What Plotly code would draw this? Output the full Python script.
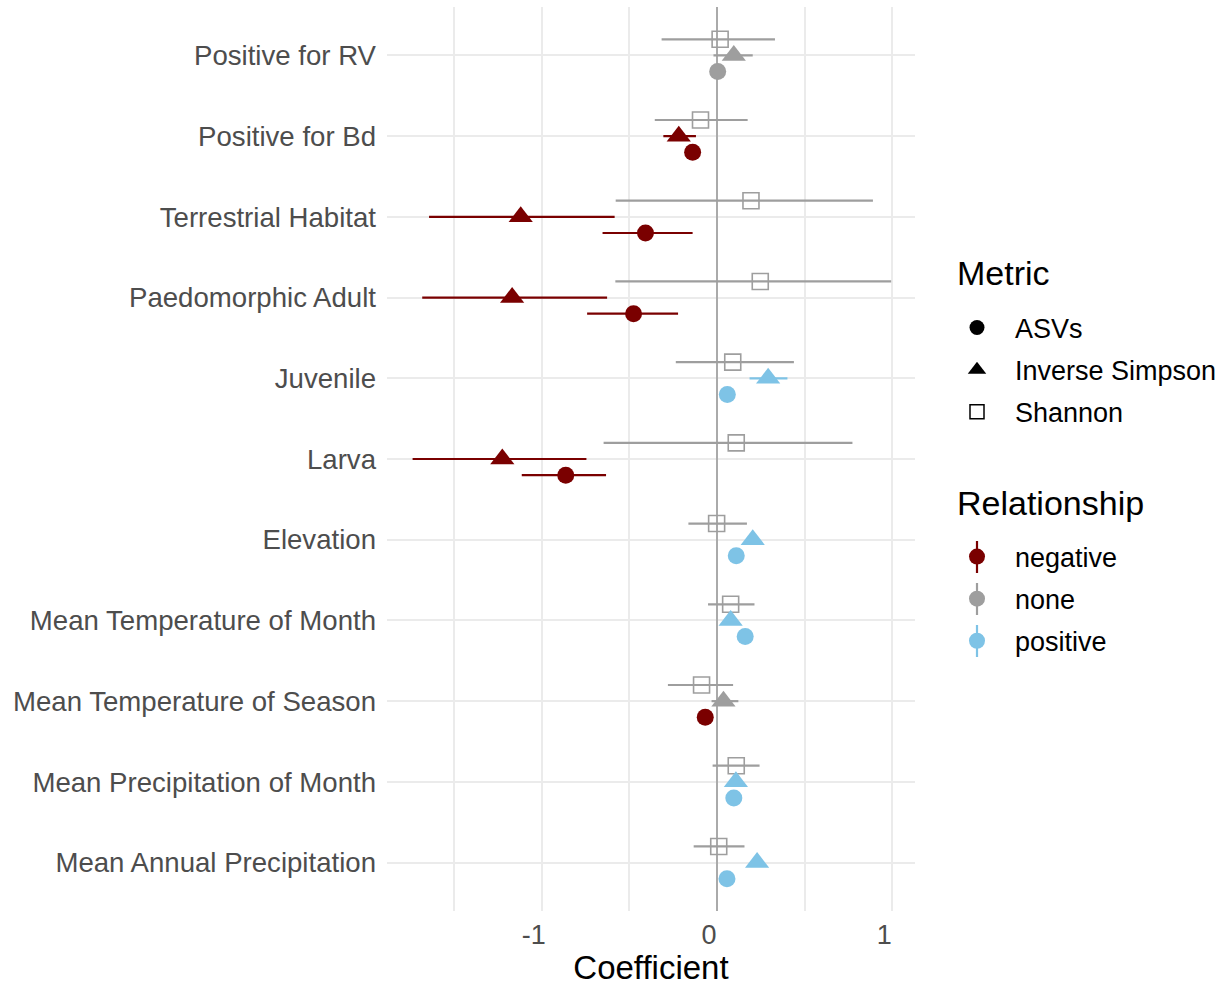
import plotly.graph_objects as go

# ---------------- data ----------------
categories = [
    "Positive for RV", "Positive for Bd", "Terrestrial Habitat", "Paedomorphic Adult",
    "Juvenile", "Larva", "Elevation", "Mean Temperature of Month",
    "Mean Temperature of Season", "Mean Precipitation of Month", "Mean Annual Precipitation",
]

asv_est = [0.004, -0.139, -0.408, -0.476, 0.059, -0.863, 0.110, 0.161, -0.067, 0.096, 0.057]
asv_lo = [-0.030, -0.170, -0.653, -0.741, 0.030, -1.114, 0.080, 0.130, -0.100, 0.065, 0.025]
asv_hi = [0.040, -0.110, -0.139, -0.222, 0.090, -0.633, 0.140, 0.190, -0.035, 0.125, 0.090]
asv_rel = ["none", "negative", "negative", "negative", "positive", "negative",
           "positive", "positive", "negative", "positive", "positive"]

inv_est = [0.096, -0.218, -1.120, -1.169, 0.292, -1.225, 0.204, 0.078, 0.037, 0.108, 0.229]
inv_lo = [-0.020, -0.306, -1.643, -1.682, 0.186, -1.737, 0.170, 0.050, -0.031, 0.080, 0.200]
inv_hi = [0.204, -0.120, -0.584, -0.627, 0.402, -0.745, 0.240, 0.110, 0.122, 0.140, 0.260]
inv_rel = ["none", "negative", "negative", "negative", "positive", "negative",
           "positive", "positive", "none", "positive", "positive"]

sha_est = [0.018, -0.094, 0.194, 0.247, 0.090, 0.110, -0.002, 0.078, -0.088, 0.110, 0.010]
sha_lo = [-0.316, -0.355, -0.578, -0.580, -0.235, -0.647, -0.163, -0.051, -0.280, -0.025, -0.133]
sha_hi = [0.331, 0.175, 0.890, 0.994, 0.439, 0.773, 0.171, 0.214, 0.092, 0.243, 0.157]
sha_rel = ["none"] * 11

metrics = ["ASVs", "Inverse Simpson", "Shannon"]
relationships = ["negative", "none", "positive"]
x_ticks = [-1, 0, 1]
x_minor = [-1.5, -0.5, 0.5]

# ---------------- styling ----------------
rel_colors = {"negative": "#7A0000", "none": "#9E9E9E", "positive": "#7EC3E6"}
symbols = {"ASVs": "circle", "Inverse Simpson": "triangle-up", "Shannon": "square-open"}
sizes = {"ASVs": 17, "Inverse Simpson": 21, "Shannon": 16}
offsets = {"ASVs": -0.2, "Inverse Simpson": 0.0, "Shannon": 0.2}
FONT = "Liberation Sans, Arial, Helvetica, sans-serif"

series = {
    "ASVs": (asv_est, asv_lo, asv_hi, asv_rel),
    "Inverse Simpson": (inv_est, inv_lo, inv_hi, inv_rel),
    "Shannon": (sha_est, sha_lo, sha_hi, sha_rel),
}

n = len(categories)
ypos = [n - i for i in range(n)]

fig = go.Figure()

for m in ["Shannon", "Inverse Simpson", "ASVs"]:
    est, lo, hi, rel = series[m]
    for r in relationships:
        idx = [i for i in range(n) if rel[i] == r]
        if not idx:
            continue
        fig.add_trace(go.Scatter(
            x=[est[i] for i in idx],
            y=[ypos[i] + offsets[m] for i in idx],
            mode="markers",
            marker=dict(symbol=symbols[m], size=sizes[m], color=rel_colors[r],
                        line=dict(width=1.6 if m == "Shannon" else 0, color=rel_colors[r])),
            error_x=dict(type="data", symmetric=False,
                         array=[hi[i] - est[i] for i in idx],
                         arrayminus=[est[i] - lo[i] for i in idx],
                         width=0, thickness=2.2, color=rel_colors[r]),
            showlegend=False,
            hovertemplate=m + " (" + r + "): %{x:.3f}<extra></extra>",
        ))

# legend entries: Metric
legend_sizes = {"ASVs": 15, "Inverse Simpson": 16, "Shannon": 14}
for m in metrics:
    fig.add_trace(go.Scatter(
        x=[None], y=[None], mode="markers", name=m, legend="legend", legendgroup="m_" + m,
        marker=dict(symbol=symbols[m], size=legend_sizes[m], color="black",
                    line=dict(width=1.5 if m == "Shannon" else 0, color="black")),
    ))
# legend entries: Relationship
for r in relationships:
    fig.add_trace(go.Scatter(
        x=[None], y=[None], mode="markers", name=r, legend="legend2", legendgroup="r_" + r,
        marker=dict(symbol="circle", size=16, color=rel_colors[r]),
    ))

W, H = 1227, 986
L, R, T, B = 387, 312, 7, 75
PW, PH = W - L - R, H - T - B


def px_x(xp):
    return (xp - L) / PW


def px_y(yp):
    return 1 - (yp - T) / PH


LEG_GLYPH_X = 977
metric_item_y = [327, 370, 412]
rel_item_y = [557, 599, 641]

annotations = [
    dict(text="Metric", x=px_x(955), y=px_y(273), xref="paper", yref="paper",
         xanchor="left", yanchor="middle", showarrow=False,
         font=dict(size=34, color="black", family=FONT)),
    dict(text="Relationship", x=px_x(955), y=px_y(503), xref="paper", yref="paper",
         xanchor="left", yanchor="middle", showarrow=False,
         font=dict(size=34, color="black", family=FONT)),
]

# vertical "pointrange" stroke behind the Relationship legend keys
shapes = []
for r, yy in zip(relationships, rel_item_y):
    shapes.append(dict(type="line", xref="paper", yref="paper",
                       x0=px_x(LEG_GLYPH_X), x1=px_x(LEG_GLYPH_X),
                       y0=px_y(yy - 16), y1=px_y(yy + 16),
                       line=dict(color=rel_colors[r], width=2.2), layer="above"))

fig.update_layout(
    width=W, height=H,
    margin=dict(l=L, r=R, t=T, b=B, autoexpand=False),
    paper_bgcolor="white", plot_bgcolor="white",
    font=dict(family=FONT, color="black"),
    annotations=annotations,
    shapes=shapes,
    xaxis=dict(
        range=[-1.883, 1.13], tickvals=x_ticks, ticktext=[str(v) for v in x_ticks],
        showgrid=True, gridcolor="#EBEBEB", gridwidth=1.6,
        minor=dict(tickvals=x_minor, showgrid=True, gridcolor="#EBEBEB", gridwidth=1.6),
        zeroline=True, zerolinecolor="#AAAAAA", zerolinewidth=2,
        ticks="", showline=False, automargin=False,
        tickfont=dict(size=27, color="#4D4D4D", family=FONT),
        ticklabelstandoff=5, ticklabelshift=-8,
        title=dict(text="Coefficient", font=dict(size=33, color="black", family=FONT), standoff=6),
    ),
    yaxis=dict(
        range=[0.4, n + 0.6], tickvals=ypos, ticktext=categories,
        showgrid=True, gridcolor="#EBEBEB", gridwidth=1.6,
        zeroline=False, ticks="", showline=False, automargin=False,
        tickfont=dict(size=27.6, color="#4D4D4D", family=FONT),
        ticklabelstandoff=10,
    ),
    legend=dict(
        font=dict(size=27, color="black", family=FONT),
        xref="container", yref="container", x=(LEG_GLYPH_X - 38) / W,
        y=1 - metric_item_y[1] / H,
        xanchor="left", yanchor="middle", bgcolor="rgba(0,0,0,0)",
        tracegroupgap=4, itemsizing="trace", itemwidth=66,
    ),
    legend2=dict(
        font=dict(size=27, color="black", family=FONT),
        xref="container", yref="container", x=(LEG_GLYPH_X - 38) / W,
        y=1 - rel_item_y[1] / H,
        xanchor="left", yanchor="middle", bgcolor="rgba(0,0,0,0)",
        tracegroupgap=4, itemsizing="trace", itemwidth=66,
    ),
)

fig.write_html("out.html")
